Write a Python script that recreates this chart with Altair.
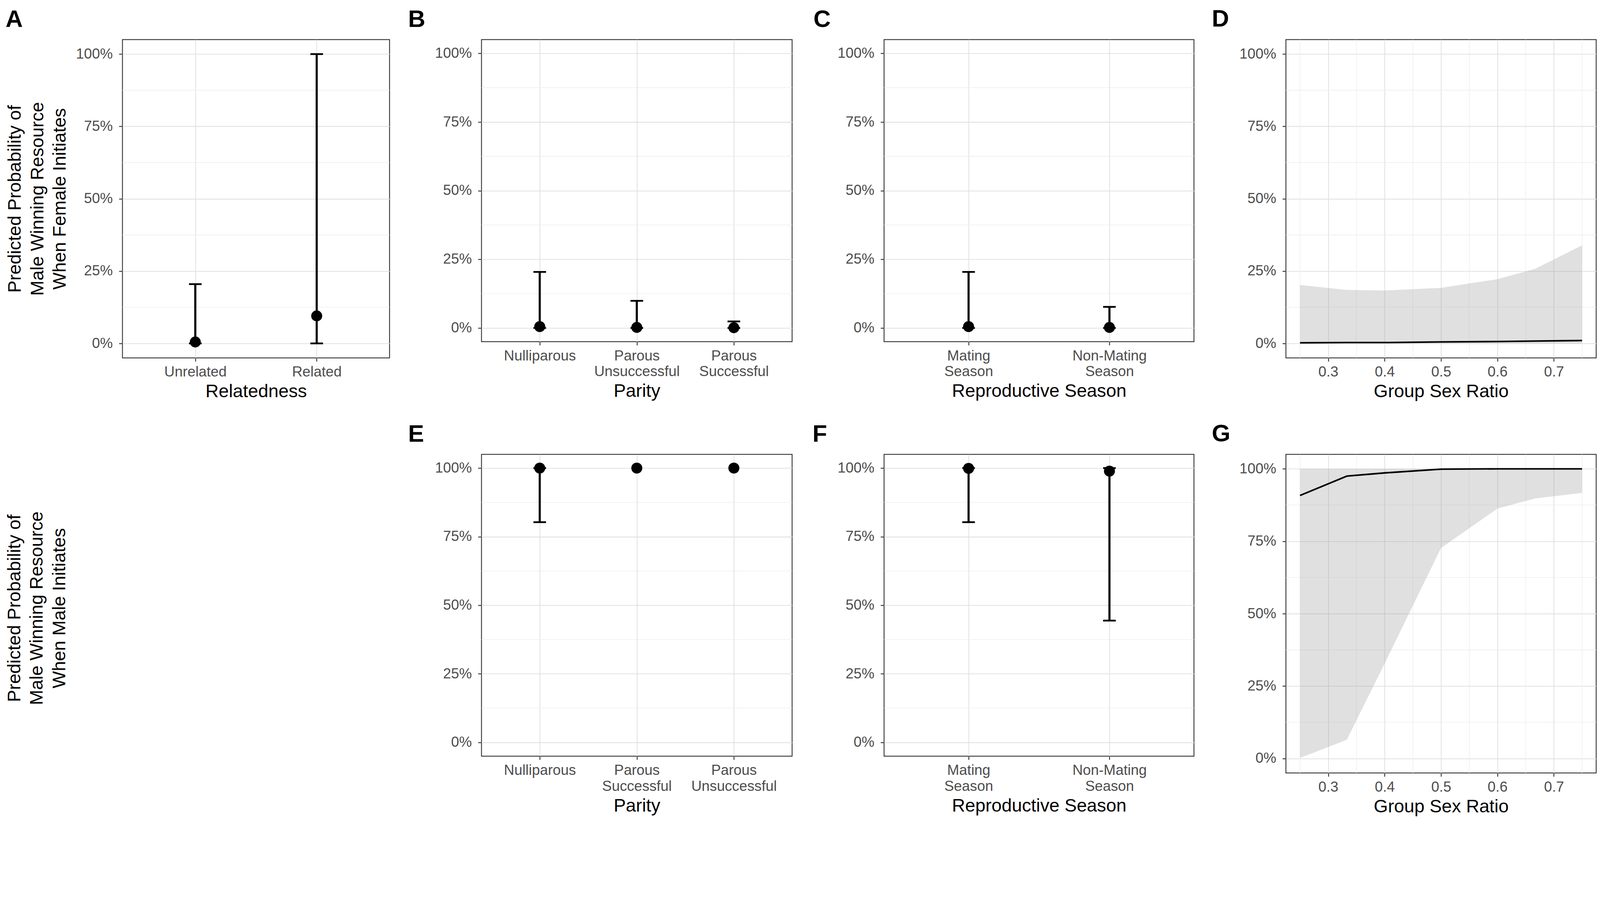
import altair as alt
import pandas as pd

FONT = "Liberation Sans"

# ---------------- data ----------------
pct_ticks = [0.0, 0.25, 0.5, 0.75, 1.0]
pct_minor = [0.125, 0.375, 0.625, 0.875]
ratio_ticks = [0.3, 0.4, 0.5, 0.6, 0.7]
ratio_minor = [0.25, 0.35, 0.45, 0.55, 0.65, 0.75]

a_cat = ["Unrelated", "Related"]
a_est = [0.005, 0.095]
a_lo = [0.0, 0.0]
a_hi = [0.205, 1.0]

b_cat = ["Nulliparous", "Parous Unsuccessful", "Parous Successful"]
b_est = [0.005, 0.002, 0.001]
b_lo = [0.0, 0.0, 0.0]
b_hi = [0.204, 0.099, 0.024]

c_cat = ["Mating Season", "Non-Mating Season"]
c_est = [0.005, 0.002]
c_lo = [0.0, 0.0]
c_hi = [0.204, 0.077]

e_cat = ["Nulliparous", "Parous Successful", "Parous Unsuccessful"]
e_est = [1.0, 1.0, 1.0]
e_lo = [0.803, 1.0, 1.0]
e_hi = [1.0, 1.0, 1.0]

f_cat = ["Mating Season", "Non-Mating Season"]
f_est = [0.999, 0.989]
f_lo = [0.803, 0.444]
f_hi = [1.0, 1.0]

ratio = [0.25, 0.333, 0.4, 0.5, 0.6, 0.667, 0.75]
d_fit = [0.002, 0.003, 0.003, 0.005, 0.0065, 0.008, 0.010]
d_lo = [0.0, 0.0, 0.0, 0.0, 0.0, 0.0, 0.0]
d_hi = [0.202, 0.185, 0.183, 0.192, 0.222, 0.258, 0.339]
g_fit = [0.908, 0.975, 0.986, 0.999, 1.0, 1.0, 1.0]
g_lo = [0.002, 0.065, 0.328, 0.727, 0.863, 0.898, 0.917]
g_hi = [1.0, 1.0, 1.0, 1.0, 1.0, 1.0, 1.0]

y_title_top = ["Predicted Probability of", "Male Winning Resource", "When Female Initiates"]
y_title_bottom = ["Predicted Probability of", "Male Winning Resource", "When Male Initiates"]

# ---------------- styling helpers ----------------
TICK_COLOR = "#333333"
LABEL_COLOR = "#4d4d4d"
GRID_MAJOR = "#dedede"
GRID_MINOR = "#ececec"

yscale = alt.Scale(domain=[-0.05, 1.05], nice=False, zero=False)


def y_axis(title=None, title_pad=18):
    if title is not None:
        return alt.Axis(values=pct_ticks, format=".0%", grid=True,
                        title=title, titlePadding=title_pad)
    return alt.Axis(values=pct_ticks, format=".0%", grid=True, title=None)


def letter(txt, dx):
    return alt.TitleParams(text=txt, anchor="start", frame="group", dx=dx,
                           fontSize=68, fontWeight="bold", font=FONT,
                           color="black", offset=22)


def minor_y(ytitle=None):
    return alt.Chart(pd.DataFrame({"m": pct_minor})).mark_rule(
        color=GRID_MINOR, strokeWidth=1.5).encode(
        y=alt.Y("m:Q", scale=yscale, axis=y_axis(ytitle)))


def cat_panel(cats, est, lo, hi, xtitle, width, height, label, dx, ytitle=None):
    df = pd.DataFrame({"cat": cats, "est": est, "lo": lo, "hi": hi})
    xenc = alt.X("cat:N", sort=cats,
                 scale=alt.Scale(type="point", padding=0.6),
                 axis=alt.Axis(title=xtitle, labelAngle=0, grid=True,
                               labelExpr="split(datum.label, ' ')"))
    yax = y_axis(ytitle)
    base = alt.Chart(df)
    bars = base.transform_filter("datum.hi > datum.lo").mark_rule(
        color="black", strokeWidth=6).encode(
        x=xenc, y=alt.Y("lo:Q", scale=yscale, axis=yax), y2="hi:Q")
    cap_hi = base.transform_filter("datum.hi > datum.lo").mark_tick(
        color="black", thickness=5, size=36, opacity=1).encode(
        x=xenc, y=alt.Y("hi:Q", scale=yscale, axis=yax))
    cap_lo = base.transform_filter("datum.hi > datum.lo").mark_tick(
        color="black", thickness=5, size=36, opacity=1).encode(
        x=xenc, y=alt.Y("lo:Q", scale=yscale, axis=yax))
    pts = base.mark_circle(color="black", size=980, opacity=1).encode(
        x=xenc, y=alt.Y("est:Q", scale=yscale, axis=yax))
    return alt.layer(minor_y(ytitle), bars, cap_lo, cap_hi, pts).properties(
        width=width, height=height, title=letter(label, dx))


def ratio_panel(fit, lo, hi, width, height, label, dx):
    df = pd.DataFrame({"r": ratio, "fit": fit, "lo": lo, "hi": hi})
    xscale = alt.Scale(domain=[0.225, 0.775], nice=False, zero=False)
    xax = alt.Axis(values=ratio_ticks, format=".1f", grid=True,
                   title="Group Sex Ratio")
    xenc = alt.X("r:Q", scale=xscale, axis=xax)
    yax = y_axis()
    minor_yy = alt.Chart(pd.DataFrame({"m": pct_minor})).mark_rule(
        color=GRID_MINOR, strokeWidth=1.5).encode(
        y=alt.Y("m:Q", scale=yscale, axis=yax))
    minor_x = alt.Chart(pd.DataFrame({"m": ratio_minor})).mark_rule(
        color=GRID_MINOR, strokeWidth=1.5).encode(
        x=alt.X("m:Q", scale=xscale, axis=xax))
    band = alt.Chart(df).mark_area(color="#999999", opacity=0.3).encode(
        x=xenc, y=alt.Y("lo:Q", scale=yscale, axis=yax), y2="hi:Q")
    line = alt.Chart(df).mark_line(color="black", strokeWidth=4.5).encode(
        x=xenc, y=alt.Y("fit:Q", scale=yscale, axis=yax))
    return alt.layer(minor_yy, minor_x, band, line).properties(
        width=width, height=height, title=letter(label, dx))


A = cat_panel(a_cat, a_est, a_lo, a_hi, "Relatedness", 761, 907, "A", -333,
              ytitle=y_title_top)
B = cat_panel(b_cat, b_est, b_lo, b_hi, "Parity", 885, 861, "B", -209)
C = cat_panel(c_cat, c_est, c_lo, c_hi, "Reproductive Season", 883, 861, "C", -201)
D = ratio_panel(d_fit, d_lo, d_hi, 884, 907, "D", -211)

P = alt.Chart(pd.DataFrame({"v": [0.5]})).mark_point(opacity=0).encode(
    y=alt.Y("v:Q", scale=yscale,
            axis=alt.Axis(title=y_title_bottom, labels=False, ticks=False,
                          domain=False, grid=False, titlePadding=153))
).properties(width=761, height=876, view=alt.ViewBackground(strokeOpacity=0))

E = cat_panel(e_cat, e_est, e_lo, e_hi, "Parity", 885, 860, "E", -209)
F = cat_panel(f_cat, f_est, f_lo, f_hi, "Reproductive Season", 883, 860, "F", -204)
G = ratio_panel(g_fit, g_lo, g_hi, 884, 908, "G", -211)

chart = alt.ConcatChart(
    concat=[A, B, C, D, P, E, F, G], columns=4,
    spacing={"row": 275, "column": 262}, bounds="flush", align="each",
).properties(
    padding={"left": 5, "top": -112, "right": 0, "bottom": 0},
    background="white",
).configure_view(
    stroke="#333333", strokeWidth=2.5
).configure_axis(
    labelFont=FONT, titleFont=FONT, labelFontSize=41, titleFontSize=52,
    labelColor=LABEL_COLOR, titleColor="black", titleFontWeight="normal",
    tickColor=TICK_COLOR, tickWidth=2.5, tickSize=10, domain=False,
    gridColor=GRID_MAJOR, gridWidth=2, labelLimit=1000, labelOverlap=False,
    labelFlush=False, labelPadding=11, titlePadding=10, minExtent=0,
    maxExtent=2000, labelLineHeight=45, titleLineHeight=64,
).configure_axisY(
    labelPadding=18
)

chart.save("out.html", embed_options={"renderer": "svg", "actions": False})
